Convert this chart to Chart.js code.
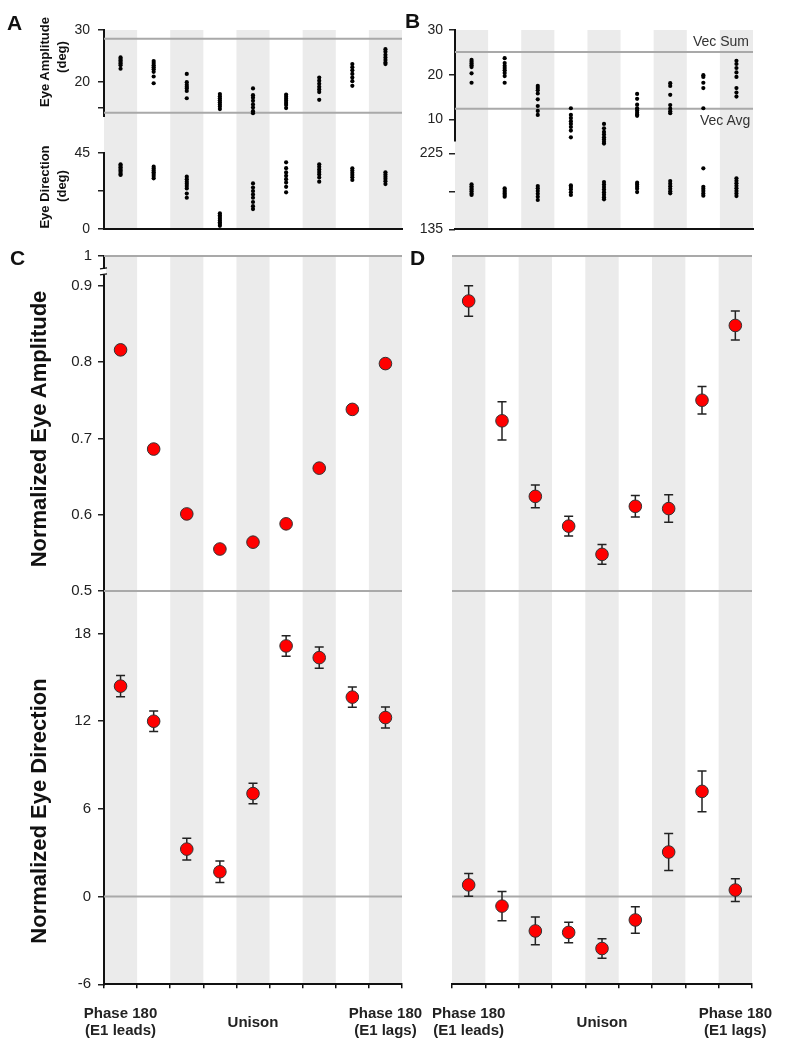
<!DOCTYPE html>
<html>
<head>
<meta charset="utf-8">
<script src="https://cdn.jsdelivr.net/npm/chart.js@4.4.1/dist/chart.umd.min.js"></script>
<style>
  html, body { margin: 0; padding: 0; background: #fff; }
  body { width: 786px; height: 1050px; position: relative; overflow: hidden;
         font-family: "Liberation Sans", Arial, sans-serif; color: #111; }
  .box { position: absolute; }
  .box.front { z-index: 2; }
  .letter { position: absolute; font-weight: bold; font-size: 21px; line-height: 1; z-index: 3; }
  .ytitle { position: absolute; font-weight: bold; white-space: nowrap; line-height: 1;
            transform: translate(-50%, -50%) rotate(-90deg); z-index: 3; }
  .note { position: absolute; font-size: 14px; color: #333; line-height: 1;
          transform: translateY(-50%); z-index: 3; }
</style>
</head>
<body>

<div class="letter" style="left:7px; top:12px;">A</div>
<div class="letter" style="left:405px; top:10px;">B</div>
<div class="letter" style="left:10px; top:247px;">C</div>
<div class="letter" style="left:410px; top:247px;">D</div>

<div class="ytitle" style="left:44px; top:62px; font-size:13px;">Eye Amplitude</div>
<div class="ytitle" style="left:61px; top:57px; font-size:13px;">(deg)</div>
<div class="ytitle" style="left:44px; top:187px; font-size:13px;">Eye Direction</div>
<div class="ytitle" style="left:61px; top:186px; font-size:13px;">(deg)</div>
<div class="ytitle" style="left:39px; top:429px; font-size:22px;">Normalized Eye Amplitude</div>
<div class="ytitle" style="left:39px; top:811px; font-size:22px;">Normalized Eye Direction</div>

<div class="note" style="left:693px; top:41px;">Vec Sum</div>
<div class="note" style="left:700px; top:120px;">Vec Avg</div>

<div class="box front" style="left:0px; top:0px; width:410px; height:117px;"><canvas id="cA1"></canvas></div>
<div class="box" style="left:0px; top:117px; width:410px; height:125px;"><canvas id="cA2"></canvas></div>
<div class="box front" style="left:400px; top:0px; width:386px; height:150px;"><canvas id="cB1"></canvas></div>
<div class="box" style="left:400px; top:141px; width:386px; height:101px;"><canvas id="cB2"></canvas></div>
<div class="box front" style="left:0px; top:240px; width:430px; height:361px;"><canvas id="cC1"></canvas></div>
<div class="box" style="left:0px; top:575px; width:430px; height:475px;"><canvas id="cC2"></canvas></div>
<div class="box front" style="left:400px; top:240px; width:386px; height:361px;"><canvas id="cD1"></canvas></div>
<div class="box" style="left:400px; top:575px; width:386px; height:475px;"><canvas id="cD2"></canvas></div>

<script>
// ---- data ----
const N_COLS = 9;
const groupPos = [0.5, 4.5, 8.5];
const groupLabels = [['Phase 180', '(E1 leads)'], 'Unison', ['Phase 180', '(E1 lags)']];

// A: eye amplitude (deg), one list of trials per condition
const aAmpDots = [
  [24.7, 24.4, 24.1, 23.8, 23.5, 23.2, 22.5],
  [24.0, 23.6, 23.2, 22.8, 22.4, 21.9, 21.0, 19.7],
  [21.5, 19.9, 19.4, 19.0, 18.7, 18.2, 16.8],
  [17.6, 17.2, 16.8, 16.4, 16.0, 15.6, 15.2, 14.7],
  [18.7, 17.4, 16.9, 16.3, 15.6, 15.0, 14.3, 13.9],
  [17.5, 17.1, 16.7, 16.3, 15.9, 15.5, 14.9],
  [20.8, 20.2, 19.6, 19.0, 18.5, 18.0, 16.5],
  [23.4, 22.8, 22.2, 21.5, 20.8, 20.1, 19.2],
  [26.3, 25.8, 25.2, 24.7, 24.2, 23.7, 23.4]
];
// A: eye direction (deg)
const aDirDots = [
  [38.3, 37.4, 36.5, 35.6, 34.7, 33.7, 32.6, 32.0],
  [36.9, 35.8, 34.7, 33.6, 32.5, 31.4, 30.0],
  [31.0, 29.5, 28.0, 26.8, 25.5, 24.0, 21.0, 18.5],
  [9.3, 8.2, 7.1, 6.0, 5.0, 4.0, 3.0, 1.9],
  [27.0, 24.5, 22.5, 20.5, 18.5, 16.0, 13.5, 11.8],
  [39.5, 36.0, 33.5, 31.5, 29.5, 27.5, 25.0, 21.7],
  [38.3, 36.8, 35.3, 33.8, 32.3, 30.5, 28.0],
  [35.9, 34.6, 33.3, 32.0, 30.6, 29.0],
  [33.6, 32.3, 31.0, 29.7, 28.3, 26.6]
];
// B: eye amplitude (deg)
const bAmpDots = [
  [23.3, 22.9, 22.5, 22.1, 21.7, 20.3, 18.2],
  [23.7, 22.6, 22.0, 21.5, 21.0, 20.4, 19.7, 18.2],
  [17.5, 17.0, 16.5, 15.8, 14.5, 13.0, 11.9, 11.0],
  [12.5, 11.0, 10.3, 9.6, 9.0, 8.3, 7.5, 6.0],
  [9.0, 8.0, 7.2, 6.6, 6.0, 5.5, 5.0, 4.6],
  [15.7, 14.6, 13.3, 12.5, 12.0, 11.5, 11.1, 10.8],
  [18.1, 17.5, 15.5, 13.2, 12.4, 11.8, 11.4],
  [19.9, 19.5, 18.2, 17.0, 12.5],
  [23.1, 22.4, 21.5, 20.5, 19.5, 17.0, 16.0, 15.1]
];
// B: eye direction (deg)
const bDirDots = [
  [188.3, 186.0, 184.0, 182.0, 180.0, 177.5, 175.6],
  [183.5, 181.5, 179.5, 177.5, 175.5, 173.6],
  [186.3, 183.5, 180.5, 177.0, 173.5, 169.7],
  [187.1, 185.0, 182.5, 179.0, 175.6],
  [191.0, 188.0, 185.0, 182.0, 179.0, 176.0, 173.0, 170.5],
  [190.2, 188.0, 185.5, 183.0, 179.1],
  [192.2, 189.0, 186.0, 183.0, 180.0, 177.6],
  [207.2, 185.4, 183.0, 180.5, 177.5, 174.8],
  [195.4, 192.5, 189.5, 186.5, 183.5, 180.5, 177.5, 174.4]
];
const aAmpRefs = [28.3, 14.0];
const bAmpRefs = [25.1, 12.4];   // Vec Sum, Vec Avg

// C / D: normalized means with error
const cAmpMean = [0.816, 0.686, 0.601, 0.555, 0.564, 0.588, 0.661, 0.738, 0.798];
const cAmpErr  = [0.003, 0.004, 0.005, 0.003, 0.003, 0.003, 0.003, 0.003, 0.005];
const dAmpMean = [0.880, 0.723, 0.624, 0.585, 0.548, 0.611, 0.608, 0.750, 0.848];
const dAmpErr  = [0.020, 0.025, 0.015, 0.013, 0.013, 0.014, 0.018, 0.018, 0.019];
const cDirMean = [14.4, 12.0, 3.25, 1.7, 7.05, 17.15, 16.35, 13.65, 12.25];
const cDirErr  = [0.73, 0.70, 0.75, 0.73, 0.70, 0.70, 0.72, 0.70, 0.72];
const dDirMean = [0.8, -0.65, -2.35, -2.45, -3.55, -1.6, 3.05, 7.2, 0.45];
const dDirErr  = [0.78, 1.0, 0.95, 0.7, 0.66, 0.9, 1.27, 1.4, 0.78];

// axis limits and ticks
const aAmpRange = [13.17, 30];  const aAmpTicks = [15, 20, 30];  const aAmpTickLabels = ['', '20', '30'];
const aDirRange = [0, 45];      const aDirTicks = [0, 22.5, 45]; const aDirTickLabels = ['0', '', '45'];
const bAmpRange = [5.17, 30];   const bAmpTicks = [10, 20, 30];  const bAmpTickLabels = ['10', '20', '30'];
const bDirRange = [135, 225];   const bDirTicks = [135, 180, 225]; const bDirTickLabels = ['135', '', '225'];
const ampRange = [0.5, 0.939];  // top of the broken axis is labelled 1
const ampTicks = [0.5, 0.6, 0.7, 0.8, 0.9, 0.939]; const ampTickLabels = ['0.5', '0.6', '0.7', '0.8', '0.9', '1'];
const dirRange = [-6, 20.91];
const dirTicks = [-6, 0, 6, 12, 18]; const dirTickLabels = ['-6', '0', '6', '12', '18'];

// ---- helpers ----
Chart.defaults.font.family = '"Liberation Sans", Arial, sans-serif';
Chart.defaults.color = '#222';

const colEdges = Array.from({length: N_COLS + 1}, (_, i) => i);

function dotData(cols) {
  return cols.flatMap((vals, i) => vals.map(v => ({x: i + 0.5, y: v})));
}
function meanData(means) {
  return means.map((v, i) => ({x: i + 0.5, y: v}));
}
function dotSet(cols) {
  return { data: dotData(cols), pointRadius: 2.1, backgroundColor: '#000', borderWidth: 0, clip: false };
}
function meanSet(means, errs) {
  return { data: meanData(means), errors: errs, pointRadius: 6.3, backgroundColor: '#f00',
           borderColor: '#333', borderWidth: 1, clip: false };
}

const stripePlugin = {
  id: 'stripes',
  defaults: { fromTop: false },
  beforeDraw(chart, args, opts) {
    const {ctx, chartArea: area, scales: {x}} = chart;
    const top = opts.fromTop ? 0 : area.top;
    ctx.save();
    ctx.fillStyle = '#ebebeb';
    for (let i = 0; i < N_COLS; i += 2) {
      const l = x.getPixelForValue(i), r = x.getPixelForValue(i + 1);
      ctx.fillRect(l, top, r - l, area.bottom - top);
    }
    ctx.restore();
  }
};

const refLinePlugin = {
  id: 'refLines',
  defaults: { values: [] },
  beforeDatasetsDraw(chart, args, opts) {
    const {ctx, chartArea: area, scales: {y}} = chart;
    ctx.save();
    ctx.strokeStyle = '#a9a9a9';
    ctx.lineWidth = 2;
    opts.values.forEach(v => {
      const py = y.getPixelForValue(v);
      ctx.beginPath(); ctx.moveTo(area.left, py); ctx.lineTo(area.right, py); ctx.stroke();
    });
    ctx.restore();
  }
};

const errorBarPlugin = {
  id: 'errorBars',
  beforeDatasetsDraw(chart) {
    const {ctx, scales: {x, y}} = chart;
    chart.data.datasets.forEach(ds => {
      if (!ds.errors) return;
      ctx.save();
      ctx.strokeStyle = '#222';
      ctx.lineWidth = 1.5;
      ds.data.forEach((p, i) => {
        const px = x.getPixelForValue(p.x);
        const hi = y.getPixelForValue(p.y + ds.errors[i]);
        const lo = y.getPixelForValue(p.y - ds.errors[i]);
        ctx.beginPath();
        ctx.moveTo(px, hi); ctx.lineTo(px, lo);
        ctx.moveTo(px - 4.5, hi); ctx.lineTo(px + 4.5, hi);
        ctx.moveTo(px - 4.5, lo); ctx.lineTo(px + 4.5, lo);
        ctx.stroke();
      });
      ctx.restore();
    });
  }
};

// little break marks between 0.9 and 1 on the C axis
const axisBreakPlugin = {
  id: 'axisBreak',
  afterDraw(chart) {
    const {ctx, scales: {y}} = chart;
    const ax = y.right;
    const yb = (y.getPixelForValue(0.9) + y.top) / 2 + 1;
    ctx.save();
    ctx.fillStyle = '#fff';
    ctx.fillRect(ax - 2, yb - 3, 4, 6);
    ctx.strokeStyle = '#111';
    ctx.lineWidth = 1.5;
    ctx.beginPath();
    ctx.moveTo(ax - 4, yb - 3); ctx.lineTo(ax + 3, yb - 4);
    ctx.moveTo(ax - 4, yb + 3); ctx.lineTo(ax + 3, yb + 2);
    ctx.stroke();
    ctx.restore();
  }
};

function yAxis(o) {
  return {
    display: true,
    min: o.range[0], max: o.range[1],
    afterBuildTicks: s => { s.ticks = (o.ticks || []).map(v => ({value: v})); },
    afterFit: s => { s.width = o.width; s.paddingTop = 0; s.paddingBottom = 0; },
    ticks: {
      display: !!o.labels, autoSkip: false, padding: o.pad || 6,
      font: {size: o.fontSize || 15}, color: '#222',
      callback: (v, i) => (o.labels ? o.labels[i] : '')
    },
    grid: { display: !!o.ticks, drawOnChartArea: false, drawTicks: !!o.ticks, tickLength: 6,
            color: '#222', lineWidth: 1.5 },
    border: { display: !!o.ticks && o.border !== false, color: '#111', width: 2 }
  };
}

function xHidden() {
  return { display: false, min: 0, max: N_COLS };
}
function xBorderOnly() {
  return {
    min: 0, max: N_COLS,
    ticks: { display: false },
    grid: { display: false, drawTicks: false },
    border: { display: true, color: '#111', width: 2 },
    afterFit: s => { s.height = 0; s.paddingLeft = 0; s.paddingRight = 0; }
  };
}
function xTickMarks() {
  return {
    min: 0, max: N_COLS,
    afterBuildTicks: s => { s.ticks = colEdges.map(v => ({value: v})); },
    ticks: { display: false },
    grid: { display: true, drawOnChartArea: false, drawTicks: true, tickLength: 4,
            color: '#111', lineWidth: 1.5 },
    border: { display: true, color: '#111', width: 2 },
    afterFit: s => { s.height = 4; s.paddingLeft = 0; s.paddingRight = 0; }
  };
}
function xGroupLabels() {
  return {
    type: 'linear', position: 'bottom', min: 0, max: N_COLS,
    afterBuildTicks: s => { s.ticks = groupPos.map(v => ({value: v})); },
    ticks: {
      autoSkip: false, maxRotation: 0, minRotation: 0, padding: 26, crossAlign: 'center',
      font: {size: 15, weight: 'bold', lineHeight: 1.1}, color: '#222',
      callback: (v, i) => groupLabels[i]
    },
    grid: { display: false, drawTicks: false },
    border: { display: false },
    afterFit: s => { s.height = 60; s.paddingLeft = 0; s.paddingRight = 0; }
  };
}

function panel(id, cfg) {
  const scales = { x: cfg.x };
  if (cfg.xl) scales.xl = cfg.xl;
  scales.y = cfg.y;
  return new Chart(document.getElementById(id), {
    type: 'scatter',
    data: { datasets: cfg.datasets },
    options: {
      responsive: true,
      maintainAspectRatio: false,
      animation: false,
      events: [],
      layout: { padding: cfg.padding, autoPadding: false },
      plugins: {
        legend: { display: false },
        tooltip: { enabled: false },
        stripes: { fromTop: !!cfg.fromTop },
        refLines: { values: cfg.refs || [] }
      },
      scales: scales
    },
    plugins: [stripePlugin, refLinePlugin, errorBarPlugin].concat(cfg.extra || [])
  });
}

// ---- A ----
panel('cA1', {
  datasets: [dotSet(aAmpDots)],
  padding: {left: 0, top: 30, right: 8, bottom: 0},
  x: xHidden(),
  y: yAxis({range: aAmpRange, ticks: aAmpTicks, labels: aAmpTickLabels, width: 104, pad: 8, fontSize: 14}),
  refs: aAmpRefs
});
panel('cA2', {
  datasets: [dotSet(aDirDots)],
  padding: {left: 0, top: 36, right: 8, bottom: 13},
  x: xBorderOnly(),
  y: yAxis({range: aDirRange, ticks: aDirTicks, labels: aDirTickLabels, width: 104, pad: 8, fontSize: 14}),
  fromTop: true
});

// ---- B ----
panel('cB1', {
  datasets: [dotSet(bAmpDots)],
  padding: {left: 0, top: 30, right: 33, bottom: 9},
  x: xHidden(),
  y: yAxis({range: bAmpRange, ticks: bAmpTicks, labels: bAmpTickLabels, width: 55, pad: 6, fontSize: 14}),
  refs: bAmpRefs
});
panel('cB2', {
  datasets: [dotSet(bDirDots)],
  padding: {left: 0, top: 12.3, right: 33, bottom: 12.7},
  x: xBorderOnly(),
  y: yAxis({range: bDirRange, ticks: bDirTicks, labels: bDirTickLabels, width: 55, pad: 6, fontSize: 14, border: false}),
  fromTop: true
});

// ---- C ----
panel('cC1', {
  datasets: [meanSet(cAmpMean, cAmpErr)],
  padding: {left: 0, top: 16, right: 28, bottom: 10},
  x: xHidden(),
  y: yAxis({range: ampRange, ticks: ampTicks, labels: ampTickLabels, width: 104, pad: 6}),
  refs: [ampRange[1], ampRange[0]],
  extra: [axisBreakPlugin]
});
panel('cC2', {
  datasets: [meanSet(cDirMean, cDirErr)],
  padding: {left: 0, top: 16, right: 28, bottom: 1.7},
  x: xTickMarks(),
  xl: xGroupLabels(),
  y: yAxis({range: dirRange, ticks: dirTicks, labels: dirTickLabels, width: 104, pad: 7}),
  refs: [0, dirRange[1]]
});

// ---- D ----
panel('cD1', {
  datasets: [meanSet(dAmpMean, dAmpErr)],
  padding: {left: 0, top: 16, right: 34, bottom: 10},
  x: xHidden(),
  y: yAxis({range: ampRange, width: 52}),
  refs: [ampRange[1], ampRange[0]]
});
panel('cD2', {
  datasets: [meanSet(dDirMean, dDirErr)],
  padding: {left: 0, top: 16, right: 34, bottom: 1.7},
  x: xTickMarks(),
  xl: xGroupLabels(),
  y: yAxis({range: dirRange, width: 52}),
  refs: [0, dirRange[1]]
});
</script>
</body>
</html>
